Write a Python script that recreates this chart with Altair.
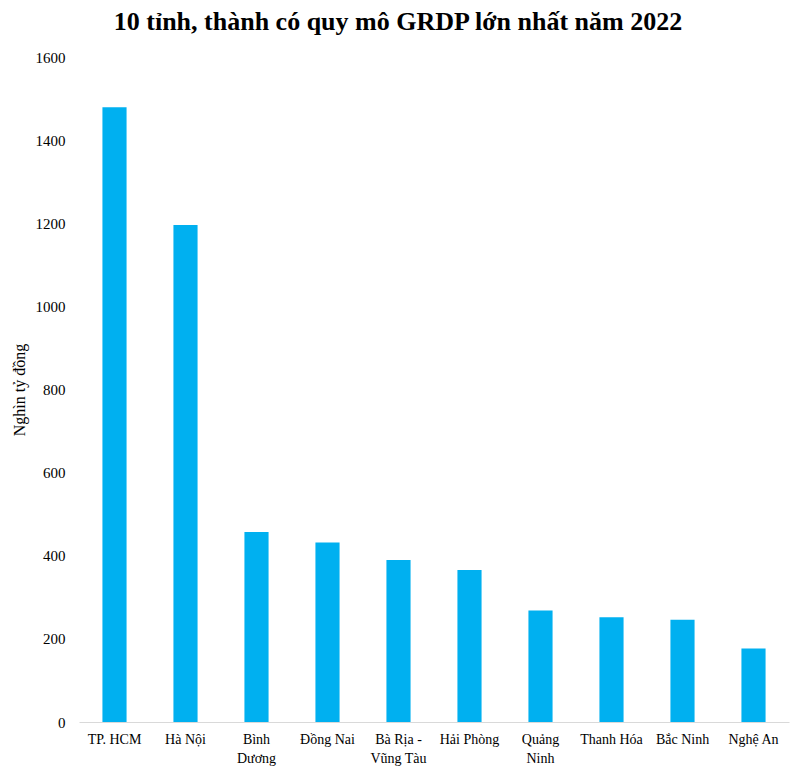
import altair as alt
import pandas as pd

provinces = ["TP. HCM", "Hà Nội", "Bình\nDương", "Đồng Nai", "Bà Rịa -\nVũng Tàu",
             "Hải Phòng", "Quảng\nNinh", "Thanh Hóa", "Bắc Ninh", "Nghệ An"]
grdp = [1479, 1196, 457, 432, 390, 366, 268, 252, 246, 177]
y_ticks = [0, 200, 400, 600, 800, 1000, 1200, 1400, 1600]

df = pd.DataFrame({"province": provinces, "grdp": grdp})

FONT = "Liberation Serif"

chart = alt.Chart(df).mark_bar(color="#00B0F0").encode(
    x=alt.X("province:N", sort=provinces,
            scale=alt.Scale(paddingInner=0.66, paddingOuter=0.33),
            axis=alt.Axis(title=None, labelAngle=0, ticks=False, domainColor="#d9d9d9",
                          labelFont=FONT, labelFontSize=14, labelColor="#000000",
                          labelPadding=10, labelLineHeight=19,
                          labelExpr="split(datum.label, '\\n')")),
    y=alt.Y("grdp:Q", scale=alt.Scale(domain=[0, 1600]),
            axis=alt.Axis(title="Nghìn tỷ đồng", values=y_ticks, grid=False, domain=False,
                          ticks=False, format="d", labelFont=FONT, labelFontSize=15,
                          labelColor="#000000",
                          labelPadding=14, titleFont=FONT, titleFontSize=16,
                          titleFontWeight="normal", titleColor="#000000", titlePadding=8)),
).properties(
    width=710, height=665,
    autosize=alt.AutoSizeParams(type="none"),
    padding={"left": 71, "top": 49, "right": 5, "bottom": 50},
    title=alt.TitleParams("10 tỉnh, thành có quy mô GRDP lớn nhất năm 2022",
                          font=FONT, fontSize=26, fontWeight="bold", color="#000000",
                          anchor="middle", dx=-36, offset=15),
).configure_view(stroke=None)

chart.save("out.html", embed_options={"renderer": "svg", "actions": False})
